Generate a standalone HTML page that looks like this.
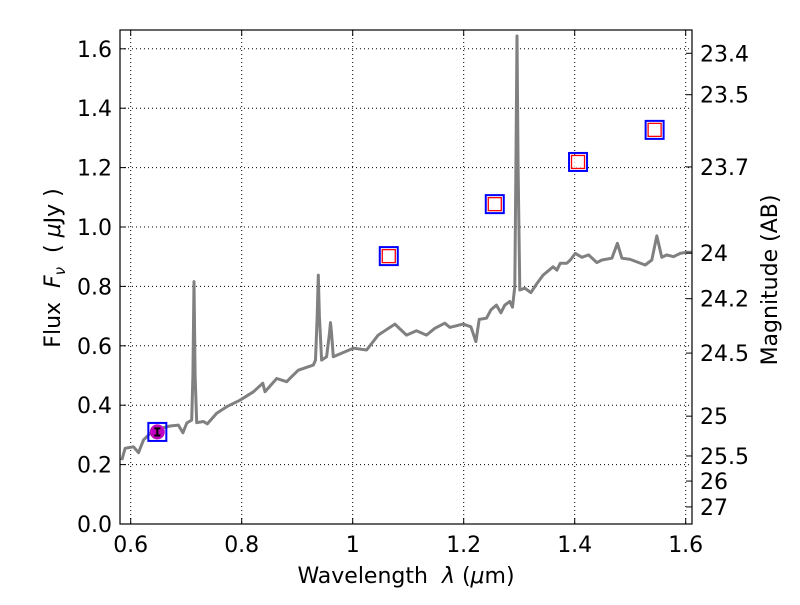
<!DOCTYPE html>
<html><head><meta charset="utf-8"><style>
body{margin:0;background:#fff}
svg text{font-family:"DejaVu Sans","Liberation Sans",sans-serif;fill:#000}
</style></head><body>
<svg id="chart" width="800" height="600" xmlns="http://www.w3.org/2000/svg">
<rect width="800" height="600" fill="#fff"/>
<g id="grid"></g>
<g id="plot"></g>
<g id="axes"></g>
<text x="406" y="583" font-size="22" text-anchor="middle" xml:space="preserve">Wavelength  <tspan font-style="italic">λ</tspan> (<tspan font-style="italic">μ</tspan>m)</text>
<text transform="translate(60,268) rotate(-90)" font-size="22" text-anchor="middle" xml:space="preserve">Flux  <tspan font-style="italic">F</tspan><tspan font-style="italic" font-size="15" dy="5">ν</tspan><tspan dy="-5">  ( </tspan><tspan font-style="italic">μ</tspan>Jy )</text>
<text transform="translate(777,280) rotate(-90)" font-size="22" text-anchor="middle">Magnitude (AB)</text>
</svg>
<script>
const specWl = [0.584,0.590,0.605,0.614,0.623,0.641,0.671,0.686,0.694,0.701,0.710,0.712,0.714,0.716,0.719,0.731,0.738,0.755,0.773,0.797,0.821,0.838,0.842,0.863,0.881,0.890,0.902,0.929,0.933,0.936,0.938,0.940,0.944,0.953,0.958,0.960,0.962,0.965,1.001,1.025,1.046,1.076,1.097,1.115,1.133,1.148,1.166,1.175,1.199,1.213,1.222,1.228,1.241,1.249,1.259,1.267,1.274,1.283,1.288,1.292,1.294,1.296,1.298,1.301,1.310,1.321,1.332,1.343,1.361,1.368,1.374,1.386,1.392,1.401,1.413,1.425,1.440,1.449,1.467,1.477,1.485,1.500,1.527,1.539,1.548,1.557,1.566,1.578,1.590,1.602,1.611];
const specFlux = [0.215,0.255,0.260,0.240,0.283,0.316,0.330,0.333,0.307,0.340,0.350,0.500,0.816,0.500,0.341,0.345,0.337,0.373,0.395,0.417,0.445,0.474,0.445,0.490,0.479,0.496,0.518,0.535,0.552,0.700,0.838,0.700,0.552,0.563,0.640,0.678,0.640,0.563,0.592,0.586,0.636,0.673,0.636,0.651,0.636,0.659,0.676,0.662,0.673,0.664,0.614,0.689,0.693,0.721,0.737,0.711,0.737,0.749,0.730,0.800,1.200,1.643,1.200,0.788,0.794,0.779,0.810,0.838,0.866,0.855,0.878,0.878,0.889,0.911,0.898,0.906,0.880,0.889,0.895,0.945,0.895,0.891,0.872,0.889,0.970,0.898,0.906,0.900,0.911,0.915,0.915];
const photWl = [0.648,1.065,1.256,1.406,1.544];
const photFlux = [0.310,0.902,1.077,1.219,1.327];
const obsWl = [0.648];
const obsFlux = [0.310];
const obsErr = [0.012];
const xTicks = [0.6,0.8,1.0,1.2,1.4,1.6];
const xTickLabels = ["0.6","0.8","1","1.2","1.4","1.6"];
const yTicks = [0,0.2,0.4,0.6,0.8,1.0,1.2,1.4,1.6];
const yTickLabels = ["0.0","0.2","0.4","0.6","0.8","1.0","1.2","1.4","1.6"];
const magTicks = [23.4,23.5,23.7,24,24.2,24.5,25,25.5,26,27];
const magTickLabels = ["23.4","23.5","23.7","24","24.2","24.5","25","25.5","26","27"];

const L=120,R=692,T=30,B=524;
const X0=0.6,XPX0=130.7,XS=555;
const YS=297;
const sx=v=>XPX0+(v-X0)*XS;
const sy=v=>B-v*YS;
const NS="http://www.w3.org/2000/svg";
function mk(tag,attrs,parent){const e=document.createElementNS(NS,tag);for(const k in attrs)e.setAttribute(k,attrs[k]);parent.appendChild(e);return e;}
const grid=document.getElementById('grid'),plot=document.getElementById('plot'),axes=document.getElementById('axes');

xTicks.forEach((v,i)=>{
  const x=sx(v);
  const g=mk('line',{x1:x,x2:x,y1:T,y2:B,stroke:'#000','stroke-width':1,'stroke-dasharray':'1,3'},grid);
  
  
  const t1=mk('line',{x1:x,x2:x,y1:B,y2:B-6,stroke:'#000'},axes);
  
  
  const t2=mk('line',{x1:x,x2:x,y1:T,y2:T+6,stroke:'#000'},axes);
  
  
  const tx=mk('text',{x:x,y:B+28,'font-size':22,'text-anchor':'middle'},axes);
  tx.textContent=xTickLabels[i];
  
  
});
yTicks.forEach((v,i)=>{
  const y=sy(v);
  const g=mk('line',{x1:L,x2:R,y1:y,y2:y,stroke:'#000','stroke-width':1,'stroke-dasharray':'1,3'},grid);
  
  
  const t1=mk('line',{x1:L,x2:L+6,y1:y,y2:y,stroke:'#000'},axes);
  
  
  const tx=mk('text',{x:L-8,y:y+8,'font-size':22,'text-anchor':'end'},axes);
  tx.textContent=yTickLabels[i];
  
  
});
magTicks.forEach((m,i)=>{
  const f=Math.pow(10,(23.9-m)/2.5);
  const y=sy(f);
  const t=mk('line',{x1:R,x2:R-6,y1:y,y2:y,stroke:'#000'},axes);
  
  
  const tx=mk('text',{x:R+8,y:y+8,'font-size':22},axes);
  tx.textContent=magTickLabels[i];
  
  
});
const frame=mk('rect',{x:L,y:T,width:R-L,height:B-T,fill:'none',stroke:'#000','stroke-width':1.2},axes);



const cp=mk('clipPath',{id:'cp'},plot);mk('rect',{x:L,y:T,width:R-L,height:B-T},cp);
const pts=specWl.map((w,i)=>sx(w).toFixed(1)+','+sy(specFlux[i]).toFixed(1)).join(' ');
const line=mk('polyline',{points:pts,fill:'none',stroke:'#808080','stroke-width':3,'stroke-linejoin':'round','clip-path':'url(#cp)'},plot);



photWl.forEach((w,i)=>{
  const x=sx(w),y=sy(photFlux[i]);
  const b=mk('rect',{x:x-9,y:y-9,width:18,height:18,fill:'none',stroke:'#0000ff','stroke-width':2},plot);
  
  
  if(i>0){
    const r=mk('rect',{x:x-6.5,y:y-6.5,width:13,height:13,fill:'#fff','fill-opacity':0.7,stroke:'#ff0000','stroke-width':1.3},plot);
    
    
  }
});
obsWl.forEach((w,i)=>{
  const x=sx(w),y=sy(obsFlux[i]);
  const c=mk('circle',{cx:x,cy:y,r:7.5,fill:'#bf00bf'},plot);
  
  
  const e1=sy(obsFlux[i]+obsErr[i]),e2=sy(obsFlux[i]-obsErr[i]);
  const eb=mk('path',{d:`M${x},${e1}V${e2}M${x-3},${e1}H${x+3}M${x-3},${e2}H${x+3}`,stroke:'#000','stroke-width':2,fill:'none'},plot);
  
  
});
</script>
</body></html>
